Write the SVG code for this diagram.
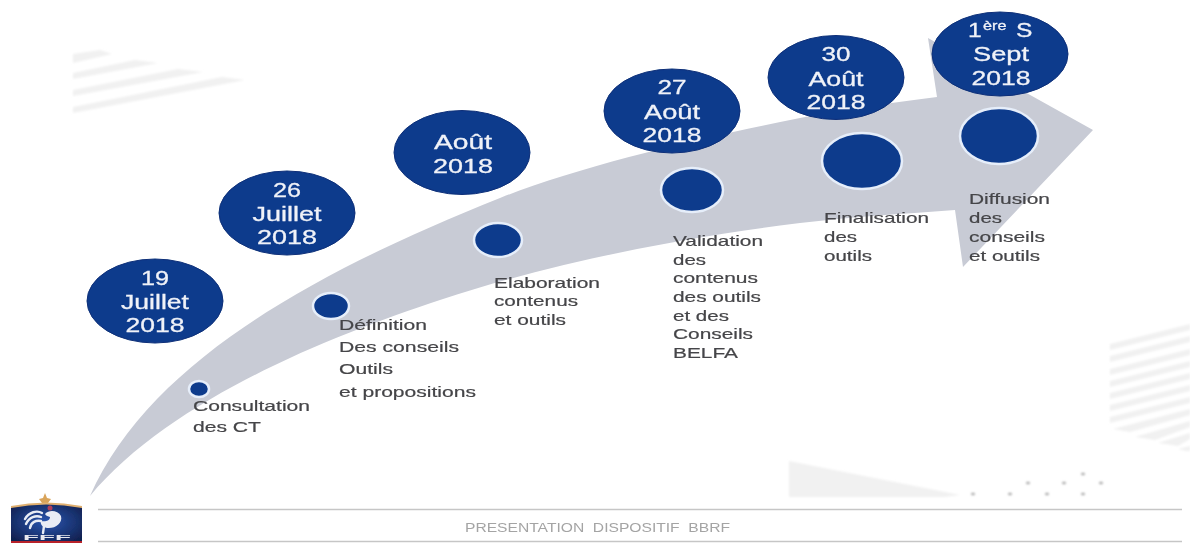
<svg xmlns="http://www.w3.org/2000/svg" width="1190" height="543" viewBox="0 0 1190 543">
<style>
.date{fill:#0b3a8c;stroke:#0a2f78;stroke-width:1}
.dot{fill:#0b3a8c;stroke:#e6eefa;stroke-width:2.5}
.dt{font-family:"Liberation Sans",Arial,sans-serif;font-size:20.5px;fill:#f0f2f8;stroke:#f0f2f8;stroke-width:.3;text-anchor:middle}
.lb{font-family:"Liberation Sans",Arial,sans-serif;font-size:15px;fill:#454548;stroke:#454548;stroke-width:.2}
.deco{fill:#f1f1f1}
.rule{stroke:#c6c6c6;stroke-width:1.5;fill:none}
.pt{fill:#a8a8a8}
</style>
<defs>
<filter id="soft" x="-2%" y="-2%" width="104%" height="104%"><feGaussianBlur stdDeviation="0.55"/></filter>
<filter id="softer" x="-5%" y="-5%" width="110%" height="110%"><feGaussianBlur stdDeviation="1"/></filter>
<radialGradient id="shield" cx="50%" cy="45%" r="65%"><stop offset="0" stop-color="#2a56b0"/><stop offset="1" stop-color="#10204f"/></radialGradient>
</defs>
<rect width="1190" height="543" fill="#fff"/>
<g id="decor" filter="url(#softer)">
<polygon class="deco" points="73,54 100,50 112,54 73,63"/>
<polygon class="deco" points="73,73 135,60 158,63 73,79"/>
<polygon class="deco" points="73,90 178,69 203,72 73,96"/>
<polygon class="deco" points="73,107 222,77 245,80 73,113"/>
<polygon class="deco" points="1110,344 1190,324 1190,330 1110,350"/>
<polygon class="deco" points="1110,356 1190,336 1190,342 1110,362"/>
<polygon class="deco" points="1110,369 1190,349 1190,355 1110,375"/>
<polygon class="deco" points="1110,381 1190,361 1190,367 1110,387"/>
<polygon class="deco" points="1110,393 1190,373 1190,379 1110,399"/>
<polygon class="deco" points="1110,405 1190,385 1190,391 1110,411"/>
<polygon class="deco" points="1110,417 1190,397 1190,403 1110,423"/>
<polygon class="deco" points="1113,429 1190,409 1190,415 1130,432"/>
<polygon class="deco" points="1135,437 1190,421 1190,427 1155,440"/>
<polygon class="deco" points="1158,443 1190,433 1190,439 1178,446"/>
<polygon class="deco" points="1178,449 1190,446 1190,451 1186,451"/>
<polygon class="deco" points="789,461 960,495 945,497 789,497"/>
<g class="pt">
<ellipse cx="973" cy="494" rx="2" ry="1.3"/><ellipse cx="1010" cy="494" rx="2" ry="1.3"/><ellipse cx="1047" cy="494" rx="2" ry="1.3"/><ellipse cx="1083" cy="494" rx="2" ry="1.3"/>
<ellipse cx="1028" cy="483" rx="2" ry="1.3"/><ellipse cx="1064" cy="483" rx="2" ry="1.3"/><ellipse cx="1101" cy="483" rx="2" ry="1.3"/><ellipse cx="1083" cy="474" rx="2" ry="1.3"/>
</g>
</g>
<g id="connectors" filter="url(#soft)">
<path fill="#c8cbd5" d="M90,496 C150,360 320,270 500,198 C580,166 700,138 800,118 C850,108 890,103 937,97 L928,38 L1093,130 L963,267 L955,210 C900,214 850,217 800,223 C680,238 555,262 440,300 C330,336 170,400 90,496 Z"/>
</g>
<g filter="url(#soft)">
<g id="step-1">
<ellipse class="date" cx="155" cy="301" rx="68" ry="42"/>
<text class="dt" x="155" y="285" textLength="28" lengthAdjust="spacingAndGlyphs">19</text>
<text class="dt" x="155" y="309" textLength="68" lengthAdjust="spacingAndGlyphs">Juillet</text>
<text class="dt" x="155" y="332" textLength="59" lengthAdjust="spacingAndGlyphs">2018</text>
<ellipse class="dot" cx="199" cy="389" rx="10" ry="8"/>
<text class="lb" x="193" y="411" textLength="117" lengthAdjust="spacingAndGlyphs">Consultation</text>
<text class="lb" x="193" y="432" textLength="68" lengthAdjust="spacingAndGlyphs">des CT</text>
</g>
<g id="step-2">
<ellipse class="date" cx="287" cy="213" rx="68" ry="42"/>
<text class="dt" x="287" y="197" textLength="28" lengthAdjust="spacingAndGlyphs">26</text>
<text class="dt" x="287" y="221" textLength="69" lengthAdjust="spacingAndGlyphs">Juillet</text>
<text class="dt" x="287" y="244" textLength="60" lengthAdjust="spacingAndGlyphs">2018</text>
<ellipse class="dot" cx="331" cy="306" rx="18" ry="13"/>
<text class="lb" x="339" y="330" textLength="88" lengthAdjust="spacingAndGlyphs">Définition</text>
<text class="lb" x="339" y="352" textLength="120" lengthAdjust="spacingAndGlyphs">Des conseils</text>
<text class="lb" x="339" y="374" textLength="54" lengthAdjust="spacingAndGlyphs">Outils</text>
<text class="lb" x="339" y="397" textLength="137" lengthAdjust="spacingAndGlyphs">et propositions</text>
</g>
<g id="step-3">
<ellipse class="date" cx="462" cy="152.500" rx="68" ry="42"/>
<text class="dt" x="463" y="149" textLength="58" lengthAdjust="spacingAndGlyphs">Août</text>
<text class="dt" x="463" y="173" textLength="60" lengthAdjust="spacingAndGlyphs">2018</text>
<ellipse class="dot" cx="498" cy="240" rx="24" ry="17"/>
<text class="lb" x="494" y="288" textLength="106" lengthAdjust="spacingAndGlyphs">Elaboration</text>
<text class="lb" x="494" y="306" textLength="84" lengthAdjust="spacingAndGlyphs">contenus</text>
<text class="lb" x="494" y="325" textLength="72" lengthAdjust="spacingAndGlyphs">et outils</text>
</g>
<g id="step-4">
<ellipse class="date" cx="672" cy="111" rx="68" ry="42"/>
<text class="dt" x="672" y="94" textLength="29" lengthAdjust="spacingAndGlyphs">27</text>
<text class="dt" x="672" y="119" textLength="56" lengthAdjust="spacingAndGlyphs">Août</text>
<text class="dt" x="672" y="142" textLength="59" lengthAdjust="spacingAndGlyphs">2018</text>
<ellipse class="dot" cx="692" cy="190" rx="31" ry="22"/>
<text class="lb" x="673" y="246" textLength="90" lengthAdjust="spacingAndGlyphs">Validation</text>
<text class="lb" x="673" y="265" textLength="33" lengthAdjust="spacingAndGlyphs">des</text>
<text class="lb" x="673" y="283" textLength="85" lengthAdjust="spacingAndGlyphs">contenus</text>
<text class="lb" x="673" y="302" textLength="88" lengthAdjust="spacingAndGlyphs">des outils</text>
<text class="lb" x="673" y="321" textLength="56" lengthAdjust="spacingAndGlyphs">et des</text>
<text class="lb" x="673" y="339" textLength="80" lengthAdjust="spacingAndGlyphs">Conseils</text>
<text class="lb" x="673" y="358" textLength="65" lengthAdjust="spacingAndGlyphs">BELFA</text>
</g>
<g id="step-5">
<ellipse class="date" cx="836" cy="77.500" rx="68" ry="42"/>
<text class="dt" x="836" y="61" textLength="29" lengthAdjust="spacingAndGlyphs">30</text>
<text class="dt" x="836" y="86" textLength="55" lengthAdjust="spacingAndGlyphs">Août</text>
<text class="dt" x="836" y="109" textLength="59" lengthAdjust="spacingAndGlyphs">2018</text>
<ellipse class="dot" cx="862" cy="161" rx="40" ry="28"/>
<text class="lb" x="824" y="223" textLength="105" lengthAdjust="spacingAndGlyphs">Finalisation</text>
<text class="lb" x="824" y="242" textLength="33" lengthAdjust="spacingAndGlyphs">des</text>
<text class="lb" x="824" y="261" textLength="48" lengthAdjust="spacingAndGlyphs">outils</text>
</g>
<g id="step-6">
<ellipse class="date" cx="1000" cy="54" rx="68" ry="42"/>
<text class="dt" style="text-anchor:start" transform="translate(968,37) scale(1.2,1)"><tspan x="0">1</tspan><tspan x="12.500" y="-7" font-size="13.500">ère</tspan><tspan x="40" y="0">S</tspan></text>
<text class="dt" x="1001" y="61" textLength="56" lengthAdjust="spacingAndGlyphs">Sept</text>
<text class="dt" x="1001" y="85" textLength="59" lengthAdjust="spacingAndGlyphs">2018</text>
<ellipse class="dot" cx="999" cy="136" rx="39" ry="28"/>
<text class="lb" x="969" y="204" textLength="81" lengthAdjust="spacingAndGlyphs">Diffusion</text>
<text class="lb" x="969" y="223" textLength="33" lengthAdjust="spacingAndGlyphs">des</text>
<text class="lb" x="969" y="242" textLength="76" lengthAdjust="spacingAndGlyphs">conseils</text>
<text class="lb" x="969" y="261" textLength="71" lengthAdjust="spacingAndGlyphs">et outils</text>
</g>
<g id="footer">
<line class="rule" x1="98" y1="509.500" x2="1182" y2="509.500"/>
<line class="rule" x1="98" y1="541.500" x2="1182" y2="541.500"/>
<text x="465" y="532" textLength="265" lengthAdjust="spacingAndGlyphs" font-family="'Liberation Sans',Arial,sans-serif" font-size="12.500" fill="#a4a4a4" xml:space="preserve">PRESENTATION  DISPOSITIF  BBRF</text>
</g>
<g id="logo">
<path fill="#d9a45a" d="M45,493 L47,498 L51,499 L48,503 L50,507 L45,505 L40,507 L42,503 L39,499 L43,498 Z"/>
<path fill="#e0b070" d="M11,506 Q46,499 82,506 L82,509 L11,509 Z"/>
<path fill="url(#shield)" d="M11,508 Q46,501 82,508 L82,543 L11,543 Z"/>
<g fill="none" stroke="#e8ecf5" stroke-width="2.400" stroke-linecap="round">
<path d="M25,519 C29,512 37,510 42,513"/>
<path d="M26,524 C29,517 36,515 41,517"/>
<path d="M30,528 C31,522 36,520 41,521"/>
<path d="M44,526 L43,533"/>
</g>
<path fill="#e8ecf5" d="M45,514 C50,509 58,511 61,516 C63,523 55,529 47,528 C42,527 40,524 41,521 C45,522 50,521 50,517 C48,516 46,516 45,514 Z"/>
<circle cx="50" cy="508" r="2.500" fill="#b0405a"/>
<rect x="11" y="541" width="71" height="2" fill="#b8222c"/>
<text x="23" y="540" textLength="48" lengthAdjust="spacingAndGlyphs" font-family="'Liberation Sans',Arial,sans-serif" font-size="8" font-weight="bold" fill="#e8e8ee">FFF</text>
</g>
</g>
</svg>
